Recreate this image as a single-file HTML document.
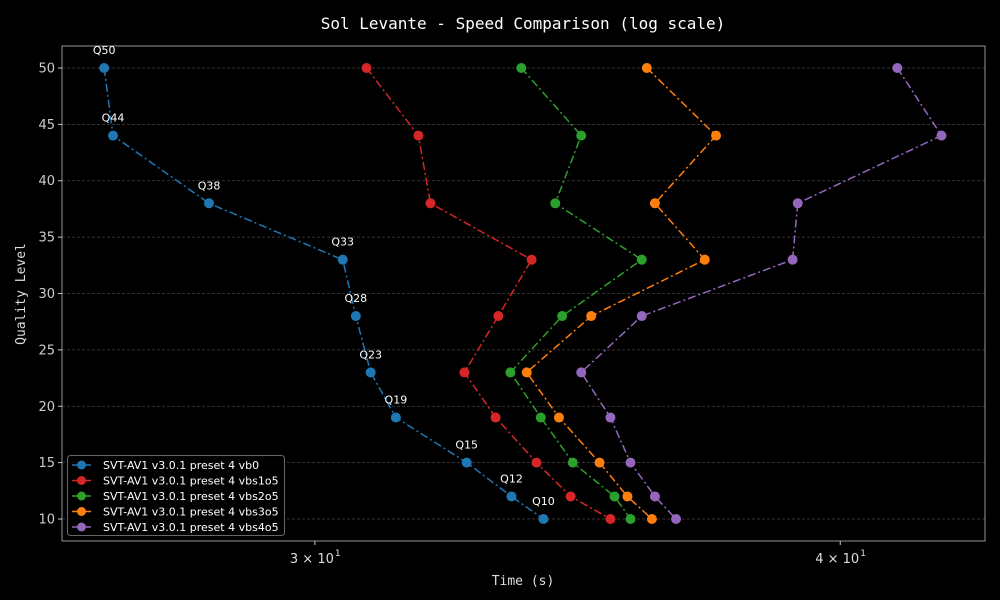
<!DOCTYPE html>
<html><head><meta charset="utf-8"><style>
html,body{margin:0;padding:0;background:#000;}
svg{display:block;}
text{font-family:"DejaVu Sans","Liberation Sans",sans-serif;}
.mono{font-family:"DejaVu Sans Mono","Liberation Mono",monospace;}
</style></head><body>
<svg id="chart" width="1000" height="600" viewBox="0 0 1000 600" xmlns="http://www.w3.org/2000/svg">
<rect width="1000" height="600" fill="#000"/>
<text class="mono" x="523" y="29" fill="#fff" font-size="16" text-anchor="middle">Sol Levante - Speed Comparison (log scale)</text>
<g id="grid"></g>
<g id="axes"></g>
<g id="series"></g>
<text class="mono" x="523" y="585" fill="#ddd" font-size="13" text-anchor="middle">Time (s)</text>
<text class="mono" x="25" y="294" fill="#ddd" font-size="13" text-anchor="middle" transform="rotate(-90 25 294)">Quality Level</text>
<g id="legend"></g>
</svg>
<script>
const qualities=[50,44,38,33,28,23,19,15,12,10];
const qLabels=["Q50","Q44","Q38","Q33","Q28","Q23","Q19","Q15","Q12","Q10"];
const seriesNames=["SVT-AV1 v3.0.1 preset 4 vb0","SVT-AV1 v3.0.1 preset 4 vbs1o5","SVT-AV1 v3.0.1 preset 4 vbs2o5","SVT-AV1 v3.0.1 preset 4 vbs3o5","SVT-AV1 v3.0.1 preset 4 vbs4o5"];
const vb0=[26.73,26.86,28.31,30.46,30.68,30.93,31.36,32.60,33.41,34.00];
const vbs1o5=[30.86,31.75,31.96,33.78,33.17,32.56,33.12,33.87,34.51,35.27];
const vbs2o5=[33.59,34.71,34.22,35.88,34.35,33.39,33.95,34.55,35.35,35.66];
const vbs3o5=[35.98,37.37,36.14,37.14,34.90,33.69,34.29,35.06,35.60,36.08];
const vbs4o5=[41.27,42.28,39.08,38.97,35.88,34.71,35.27,35.66,36.14,36.56];
const yTicks=[10,15,20,25,30,35,40,45,50];
const xMajor=[30,40];

const colors=["#1f77b4","#d62728","#2ca02c","#ff7f0e","#9467bd"];
const allSeries=[vb0,vbs1o5,vbs2o5,vbs3o5,vbs4o5];
const L=62,R=985,T=46,B=541;
const xMin=26.12,xMax=43.3,yMin=8.05,yMax=51.95;
const NS="http://www.w3.org/2000/svg";
function xs(v){return L+(Math.log10(v)-Math.log10(xMin))/(Math.log10(xMax)-Math.log10(xMin))*(R-L);}
function ys(v){return B-(v-yMin)/(yMax-yMin)*(B-T);}
function mk(tag,attrs,parent){const e=document.createElementNS(NS,tag);for(const k in attrs)e.setAttribute(k,attrs[k]);parent.appendChild(e);return e;}
const grid=document.getElementById('grid'),axes=document.getElementById('axes'),ser=document.getElementById('series'),leg=document.getElementById('legend');
yTicks.forEach(t=>{
  const y=ys(t);
  const g=mk('line',{x1:L,x2:R,y1:y,y2:y,stroke:'#444','stroke-width':0.7,'stroke-dasharray':'3,2'},grid);
  
  
  const tk=mk('line',{x1:L-4,x2:L,y1:y,y2:y,stroke:'#ccc'},axes);
  
  
  const tx=mk('text',{x:L-7,y:y+4.5,fill:'#ccc','font-size':13,'text-anchor':'end'},axes);
  tx.textContent=t;
  
  
});
xMajor.forEach(t=>{
  const x=xs(t);
  const tk=mk('line',{x1:x,x2:x,y1:B,y2:B+4,stroke:'#ccc'},axes);
  
  
  const tx=mk('text',{x:x-3,y:B+22,fill:'#ddd','font-size':13,'text-anchor':'middle'},axes);
  tx.textContent=(t/10)+' \u00d7 10';
  
  
  const sp=mk('text',{x:x+20,y:B+15,fill:'#ddd','font-size':9},axes);
  sp.textContent='1';
  
  
});
const frame=mk('rect',{x:L,y:T,width:R-L,height:B-T,fill:'none',stroke:'#bbb','stroke-width':0.8},axes);


allSeries.forEach((s,i)=>{
  const g=mk('g',{},ser);
  
  
  const pts=s.map((v,j)=>xs(v).toFixed(1)+','+ys(qualities[j]).toFixed(1)).join(' ');
  const pl=mk('polyline',{points:pts,fill:'none',stroke:colors[i],'stroke-width':1.5,'stroke-dasharray':'8,3,2,3'},g);
  
  
  s.forEach((v,j)=>{
    const c=mk('circle',{cx:xs(v),cy:ys(qualities[j]),r:5,fill:colors[i]},g);
    
    
    if(i===0){
      const t=mk('text',{x:xs(v),y:ys(qualities[j])-14,fill:'#fff','font-size':11,'text-anchor':'middle'},g);
      t.textContent=qLabels[j];
      
      
    }
  });
});
const box=mk('rect',{x:67.5,y:455.5,width:217,height:80,rx:3,fill:'#000','fill-opacity':0.8,stroke:'#666'},leg);


seriesNames.forEach((n,i)=>{
  const y=465+i*15.5;
  const g=mk('g',{},leg);
  
  
  mk('line',{x1:72,x2:91,y1:y,y2:y,stroke:colors[i],'stroke-width':1.5},g);
  mk('circle',{cx:81.5,cy:y,r:4.5,fill:colors[i]},g);
  const t=mk('text',{x:103,y:y+4,fill:'#fff','font-size':11},g);
  t.textContent=n;
});
</script>
</body></html>
